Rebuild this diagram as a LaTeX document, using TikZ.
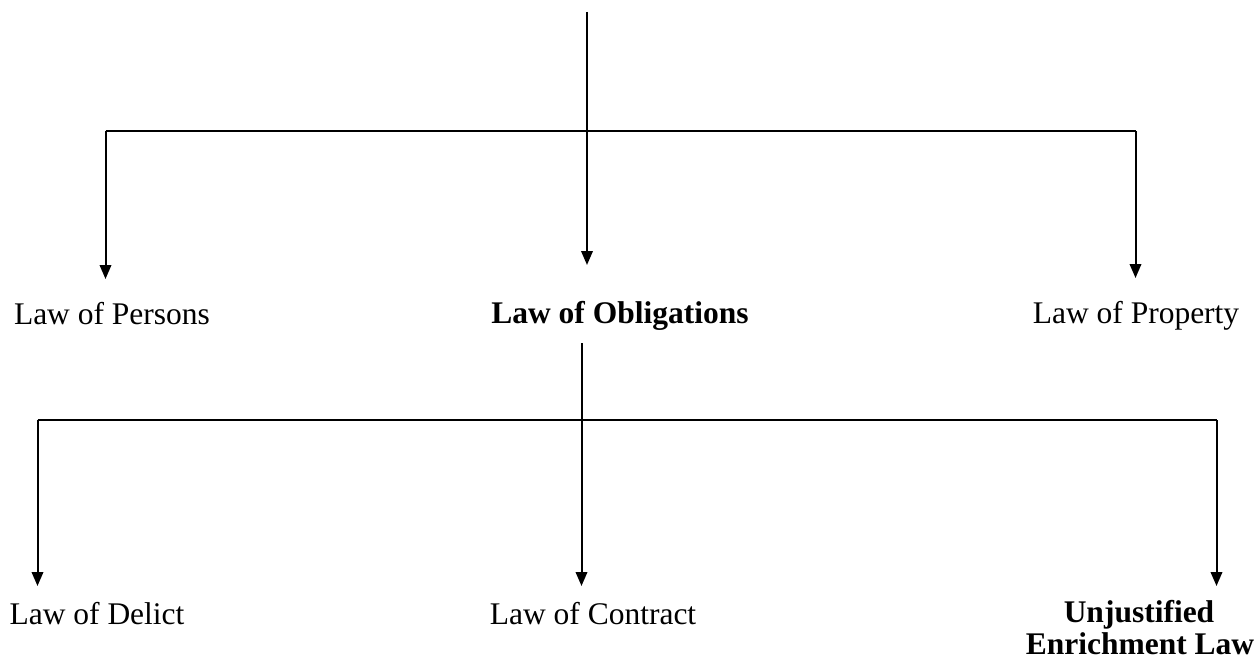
\documentclass[tikz,border=0pt]{standalone}
\usepackage{fontspec}
\setmainfont{Liberation Serif}
\usetikzlibrary{arrows.meta}
\begin{document}
\begin{tikzpicture}[x=1pt,y=-1pt,
  link/.style={line width=2pt,black},
  arr/.style={link,-{Triangle[length=14pt,width=11.5pt]}},
  lbl/.style={anchor=base,inner sep=0pt,font=\fontsize{31.5}{36}\selectfont},
  blbl/.style={lbl,font=\fontsize{31.5}{36}\selectfont\bfseries}]
\useasboundingbox (0,0) rectangle (1258,661);

% first level
\coordinate (top) at (587,12);
\coordinate (j1) at (587,131);
\coordinate (l1) at (105.5,131);
\coordinate (r1) at (1135.5,131);
\coordinate (t1a) at (105.5,279);
\coordinate (t1b) at (587,265);
\coordinate (t1c) at (1135.5,278);

\node[lbl] (persons) at (112,324) {Law of Persons};
\node[blbl] (oblig) at (620,323) {Law of Obligations};
\node[lbl] (property) at (1136,323) {Law of Property};

\draw[link] (top) -- (j1);
\draw[link] (l1) -- (r1);
\draw[arr] (l1) -- (t1a);
\draw[arr] (j1) -- (t1b);
\draw[arr] (r1) -- (t1c);

% second level
\coordinate (s2) at (581.5,343);
\coordinate (j2) at (581.5,420);
\coordinate (l2) at (37.5,420);
\coordinate (r2) at (1216.5,420);
\coordinate (t2a) at (37.5,586);
\coordinate (t2b) at (581.5,586);
\coordinate (t2c) at (1216.5,586);

\node[lbl] (delict) at (97,624) {Law of Delict};
\node[lbl] (contract) at (593,624) {Law of Contract};
\node[blbl] (unjust) at (1139,622) {Unjustified};
\node[blbl] (enrich) at (1140,654) {Enrichment Law};

\draw[link] (s2) -- (j2);
\draw[link] (l2) -- (r2);
\draw[arr] (l2) -- (t2a);
\draw[arr] (j2) -- (t2b);
\draw[arr] (r2) -- (t2c);
\end{tikzpicture}
\end{document}
